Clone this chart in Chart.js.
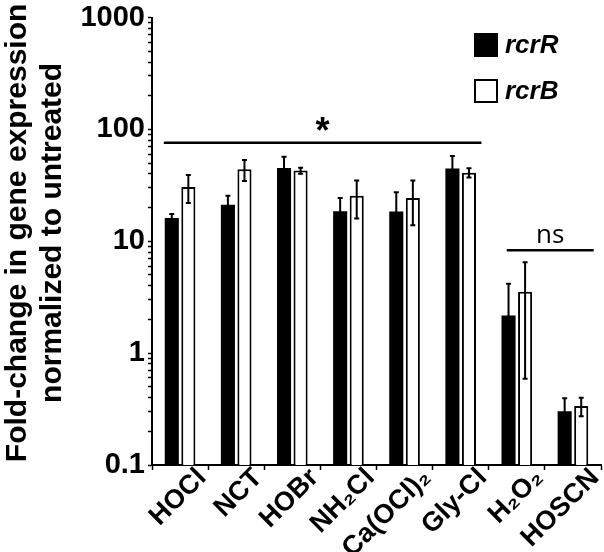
<!DOCTYPE html>
<html><head><meta charset="utf-8">
<script src="https://cdn.jsdelivr.net/npm/chart.js@4.4.1/dist/chart.umd.min.js"></script>
<style>html,body{margin:0;padding:0;background:#fff;}</style>
</head><body>
<canvas id="c" width="604" height="552"></canvas>
<script>
const categories = ['HOCl', 'NCT', 'HOBr', 'NH₂Cl', 'Ca(OCl)₂', 'Gly-Cl', 'H₂O₂', 'HOSCN'];
const seriesNames = ['rcrR', 'rcrB'];
const rcrR = [16.1, 21.2, 45.2, 18.5, 18.4, 44.6, 2.17, 0.302];
const rcrRErr = [1.4, 4.3, 11.8, 5.8, 9.0, 13.2, 2.0, 0.094];
const rcrB = [30.6, 43.9, 42.8, 25.5, 24.4, 41.0, 3.54, 0.336];
const rcrBErr = [8.6, 9.4, 2.7, 9.5, 10.5, 3.9, 2.95, 0.063];
const yTickValues = [0.1, 1, 10, 100, 1000];
const yTitle = ['  Fold-change in gene expression', '  normalized to untreated'];
const sigLabels = ['*', 'ns'];
const sigFromIdx = [0, 6];
const sigToIdx = [5, 7];
const sigLevel = [76, 8.3];

const FONT = "'Liberation Sans', Arial, sans-serif";
const sigStyle = [
  {padL: 0.29, padR: 0.37, font: 'bold 36px ' + FONT, gap: 19},
  {padL: 0.18, padR: 0.37, font: "26px 'Open Sans', sans-serif", gap: 14}
];

const errorBars = {
  id: 'errorBars',
  afterDatasetsDraw(chart) {
    const ctx = chart.ctx, y = chart.scales.y;
    const errs = [rcrRErr, rcrBErr];
    ctx.save();
    ctx.strokeStyle = '#000';
    ctx.lineWidth = 2;
    chart.data.datasets.forEach((ds, di) => {
      const meta = chart.getDatasetMeta(di);
      meta.data.forEach((bar, i) => {
        const v = ds.data[i], e = errs[di][i];
        const top = y.getPixelForValue(v + e);
        const bot = y.getPixelForValue(Math.max(v - e, 0.1));
        ctx.beginPath();
        ctx.moveTo(bar.x, top); ctx.lineTo(bar.x, bot);
        ctx.moveTo(bar.x - 2.5, top); ctx.lineTo(bar.x + 2.5, top);
        ctx.moveTo(bar.x - 2.5, bot); ctx.lineTo(bar.x + 2.5, bot);
        ctx.stroke();
      });
    });
    ctx.restore();
  }
};

const sigMarks = {
  id: 'sigMarks',
  afterDatasetsDraw(chart) {
    const ctx = chart.ctx, x = chart.scales.x, y = chart.scales.y;
    ctx.save();
    sigLabels.forEach((lab, k) => {
      const st = sigStyle[k];
      const x0 = x.getPixelForValue(sigFromIdx[k] - st.padL);
      const x1 = x.getPixelForValue(sigToIdx[k] + st.padR);
      const yy = y.getPixelForValue(sigLevel[k]);
      ctx.strokeStyle = '#000'; ctx.lineWidth = 2.5;
      ctx.beginPath(); ctx.moveTo(x0, yy); ctx.lineTo(x1, yy); ctx.stroke();
      ctx.font = st.font; ctx.fillStyle = '#000';
      ctx.textAlign = 'center'; ctx.textBaseline = 'alphabetic';
      const m = ctx.measureText(lab);
      const h = m.actualBoundingBoxAscent + m.actualBoundingBoxDescent;
      const cy = yy - st.gap;
      ctx.fillText(lab, (x0 + x1) / 2, cy + h / 2 - m.actualBoundingBoxDescent);
    });
    ctx.restore();
  }
};

const customLegend = {
  id: 'customLegend',
  afterDraw(chart) {
    const ctx = chart.ctx;
    ctx.save();
    chart.data.datasets.forEach((ds, i) => {
      const bx = 474, by = 33 + i * 46, s = 24;
      ctx.fillStyle = ds.backgroundColor;
      ctx.fillRect(bx, by, s, s);
      ctx.strokeStyle = '#000'; ctx.lineWidth = 2;
      ctx.strokeRect(bx + 1, by + 1, s - 2, s - 2);
      ctx.fillStyle = '#000';
      ctx.font = 'italic bold 26px ' + FONT;
      ctx.textAlign = 'left'; ctx.textBaseline = 'middle';
      ctx.fillText(ds.label, bx + s + 7, by + s / 2 + 1);
    });
    ctx.restore();
  }
};

new Chart(document.getElementById('c'), {
  type: 'bar',
  data: {
    labels: categories,
    datasets: [
      {label: seriesNames[0], data: rcrR, backgroundColor: '#000', borderColor: '#000', borderWidth: 0,
       categoryPercentage: 0.59, barPercentage: 0.85},
      {label: seriesNames[1], data: rcrB, backgroundColor: '#fff', borderColor: '#000', borderWidth: 2,
       categoryPercentage: 0.59, barPercentage: 0.85}
    ]
  },
  options: {
    responsive: false,
    animation: false,
    devicePixelRatio: 1,
    layout: {padding: {top: 15, right: 3, left: 0, bottom: 0}},
    plugins: {legend: {display: false}, tooltip: {enabled: false}},
    scales: {
      x: {
        offset: true,
        grid: {offset: true, drawOnChartArea: false, drawTicks: true, tickLength: 5, tickColor: '#000', tickWidth: 1.5},
        border: {display: true, color: '#000', width: 2},
        ticks: {color: '#000', font: {family: FONT, size: 27, weight: 'bold', lineHeight: 1}, minRotation: 45, maxRotation: 45,
                autoSkip: false, labelOffset: 22, padding: -6},
        afterFit(s) { s.height = 87; }
      },
      y: {
        type: 'logarithmic', min: 0.1, max: 1000,
        afterBuildTicks(s) {
          const t = [];
          for (let e = -1; e < 3; e++) for (let m = 1; m < 10; m++) t.push({value: m * Math.pow(10, e)});
          t.push({value: 1000});
          s.ticks = t;
        },
        grid: {drawOnChartArea: false, drawTicks: true, tickLength: 4, tickColor: '#000', tickWidth: 1.5},
        border: {display: true, color: '#000', width: 2},
        ticks: {color: '#000', autoSkip: false, padding: 3, font: {family: FONT, size: 29, weight: 'bold', lineHeight: 1},
                callback: (v) => yTickValues.includes(v) ? String(v) : ''},
        title: {display: true, text: yTitle, color: '#000', padding: {top: 0, bottom: 0},
                font: {family: FONT, size: 30, weight: 'bold', lineHeight: 1.17}},
        afterFit(s) { s.width = 152; }
      }
    }
  },
  plugins: [errorBars, sigMarks, customLegend]
});
</script>
</body></html>
